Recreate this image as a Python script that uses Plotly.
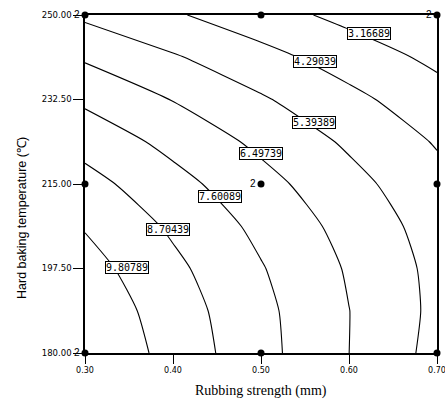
import plotly.graph_objects as go

# Rubbing strength (mm) grid and hard baking temperature grid
x_vals = [0.30, 0.40, 0.50, 0.60, 0.70]
y_vals = [180.00, 188.75, 197.50, 206.25, 215.00, 223.75, 232.50, 241.25, 250.00]
# response values read/estimated from contour positions (rows = y, cols = x)
z_vals = [
    [10.870, 9.410, 7.950, 6.490, 5.030],
    [10.623, 9.249, 7.875, 6.501, 5.127],
    [10.242, 8.954, 7.666, 6.378, 5.090],
    [9.729, 8.527, 7.325, 6.123, 4.920],
    [9.084, 7.968, 6.852, 5.735, 4.619],
    [8.305, 7.275, 6.245, 5.214, 4.184],
    [7.393, 6.449, 5.504, 4.560, 3.616],
    [6.349, 5.491, 4.632, 3.774, 2.915],
    [5.172, 4.400, 3.627, 2.855, 2.082],
]
contour_levels = [3.16689, 4.29039, 5.39389, 6.49739, 7.60089, 8.70439, 9.80789]
label_x = [0.6227, 0.5614, 0.5602, 0.5000, 0.4534, 0.3943, 0.3477]
label_y = [246.27, 240.47, 227.84, 221.42, 212.50, 205.68, 197.81]

design_x = [0.30, 0.30, 0.30, 0.50, 0.50, 0.50, 0.70, 0.70, 0.70]
design_y = [180.0, 215.0, 250.0, 180.0, 215.0, 250.0, 180.0, 215.0, 250.0]
design_rep = ["2", "", "2", "", "2", "", "", "", "2"]

x_ticks = [0.30, 0.40, 0.50, 0.60, 0.70]
x_ticklabels = ["0.30", "0.40", "0.50", "0.60", "0.70"]
y_ticks = [180.0, 197.5, 215.0, 232.5, 250.0]
y_ticklabels = ["180.00", "197.50", "215.00", "232.50", "250.00"]

x_title = "Rubbing strength (mm)"
y_title = "Hard baking temperature (℃)"

fig = go.Figure()
fig.add_trace(go.Contour(
    x=x_vals, y=y_vals, z=z_vals,
    contours=dict(start=contour_levels[0], end=contour_levels[-1],
                  size=(contour_levels[-1] - contour_levels[0]) / (len(contour_levels) - 1),
                  coloring="lines", showlabels=False),
    colorscale=[[0, "black"], [1, "black"]],
    showscale=False, line=dict(width=1.1, smoothing=0.6),
    hoverinfo="skip",
))
fig.add_trace(go.Scatter(
    x=design_x, y=design_y, mode="markers",
    marker=dict(color="black", size=7, symbol="circle"),
    cliponaxis=False, hoverinfo="skip", showlegend=False,
))

for lx, ly, lv in zip(label_x, label_y, contour_levels):
    fig.add_annotation(x=lx, y=ly, text=f"{lv:.5f}", showarrow=False,
                       font=dict(family="DejaVu Sans Mono", size=10, color="black"),
                       bgcolor="white", bordercolor="black", borderwidth=1, borderpad=0)

for dx, dy, rep in zip(design_x, design_y, design_rep):
    if rep:
        fig.add_annotation(x=dx, y=dy, text=rep, showarrow=False, xanchor="right",
                           xshift=-3, yshift=1,
                           font=dict(family="Liberation Sans", size=10, color="black"))

fig.add_annotation(x=0.5, y=0, xref="paper", yref="paper", text=x_title,
                   showarrow=False, yanchor="middle", yshift=-38,
                   font=dict(family="Liberation Serif", size=14, color="black"))
fig.add_annotation(x=0, y=0.5, xref="paper", yref="paper", text=y_title,
                   showarrow=False, textangle=-90, xanchor="center", yanchor="middle",
                   xshift=-63, yshift=-34,
                   font=dict(family="Liberation Sans", size=12.5, color="black"))

fig.update_layout(
    width=445, height=401,
    margin=dict(l=85, r=8, t=15, b=48),
    paper_bgcolor="white", plot_bgcolor="white",
    showlegend=False,
    xaxis=dict(range=[0.30, 0.70], tickvals=x_ticks, ticktext=x_ticklabels,
               ticks="outside", ticklen=9, tickcolor="black", tickwidth=1,
               showline=True, linecolor="black", linewidth=1.5, mirror=True,
               showgrid=False, zeroline=False, automargin=False,
               ticklabeloverflow="allow",
               tickfont=dict(family="DejaVu Sans", size=8, color="black")),
    yaxis=dict(range=[180, 250], tickvals=y_ticks, ticktext=y_ticklabels,
               ticks="outside", ticklen=10, tickcolor="black", tickwidth=1,
               showline=True, linecolor="black", linewidth=1.5, mirror=True,
               showgrid=False, zeroline=False, automargin=False,
               ticklabeloverflow="allow",
               tickfont=dict(family="DejaVu Sans", size=8.5, color="black")),
)

# remove the page's default body margin so the figure fills the window exactly
page_fix = ("document.documentElement.style.overflow='hidden';"
            "document.body.style.margin='0';document.body.style.overflow='hidden';")
fig.write_html("out.html", post_script=page_fix, config={"displayModeBar": False})
